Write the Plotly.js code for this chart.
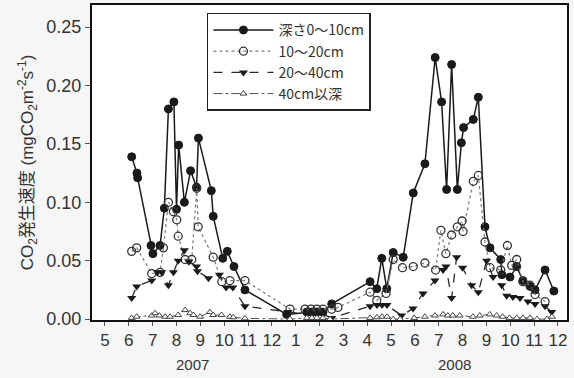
<!DOCTYPE html>
<html>
<head>
<meta charset="utf-8">
<script src="https://cdn.plot.ly/plotly-3.0.1.min.js"></script>
<style>html,body{margin:0;padding:0;background:#f6f6f6;}#chart{width:574px;height:378px;}</style>
</head>
<body>
<div id="chart"></div>
<script>
// x = month index counted from Jan 2007 (2008 month k -> 12 + k)
const monthTicks = [5,6,7,8,9,10,11,12,13,14,15,16,17,18,19,20,21,22,23,24];
const monthLabels = ["5","6","7","8","9","10","11","12","1","2","3","4","5","6","7","8","9","10","11","12"];
const yearLabels = ["2007","2008"];
const yearPos = [8.69, 19.68];
const seriesNames = ["深さ0〜10cm","10〜20cm","20〜40cm","40cm以深"];

const x1 = [6.12,6.34,6.37,6.93,7.01,7.31,7.49,7.66,7.89,8.00,8.09,8.33,8.59,8.84,8.92,9.46,9.54,9.94,10.13,10.41,10.87,12.62,
            13.47,13.68,13.89,14.14,14.51,16.12,16.40,16.61,16.82,17.09,17.51,17.93,18.42,18.85,19.12,19.33,19.54,19.78,19.95,20.04,
            20.45,20.66,20.94,21.15,21.60,21.65,21.99,22.27,22.53,22.83,23.04,23.46,23.83];
const y1 = [0.139,0.125,0.121,0.063,0.056,0.063,0.095,0.180,0.186,0.094,0.149,0.100,0.127,0.113,0.155,0.110,0.088,0.052,0.058,0.045,0.025,0.004,
            0.006,0.006,0.006,0.006,0.013,0.032,0.026,0.052,0.026,0.057,0.053,0.108,0.133,0.224,0.186,0.111,0.218,0.111,0.151,0.164,
            0.171,0.190,0.079,0.061,0.051,0.038,0.036,0.045,0.033,0.028,0.025,0.042,0.024];

const x2 = [6.12,6.33,6.96,7.31,7.45,7.66,7.87,8.01,8.07,8.36,8.64,8.85,8.91,9.54,9.90,10.24,10.87,12.76,
            13.39,13.64,13.89,14.14,14.51,14.77,16.12,16.40,16.79,17.09,17.48,17.93,18.42,18.87,19.09,19.30,19.54,19.78,19.98,20.02,
            20.45,20.66,20.94,21.15,21.60,21.88,22.06,22.27,22.53,22.83,23.04,23.46];
const y2 = [0.058,0.061,0.039,0.040,0.061,0.100,0.092,0.085,0.071,0.051,0.051,0.112,0.079,0.053,0.032,0.033,0.033,0.0085,
            0.0085,0.0085,0.0085,0.0085,0.0085,0.010,0.023,0.016,0.022,0.051,0.044,0.045,0.048,0.042,0.076,0.056,0.072,0.079,0.084,0.075,
            0.118,0.123,0.066,0.044,0.042,0.063,0.046,0.051,0.032,0.029,0.021,0.015];

const x3 = [6.12,6.33,6.96,7.20,7.38,7.66,7.87,8.07,8.33,8.52,8.84,8.88,9.34,9.80,10.08,10.36,10.87,12.68,
            13.47,13.68,13.89,14.14,14.51,16.12,16.41,16.62,16.83,17.44,17.92,18.34,18.84,19.18,19.30,19.54,19.75,20.00,
            20.38,20.66,21.01,21.28,21.64,21.85,22.11,22.41,22.74,23.04,23.46,23.74];
const y3 = [0.018,0.028,0.033,0.040,0.040,0.029,0.040,0.050,0.059,0.049,0.045,0.041,0.035,0.038,0.027,0.027,0.011,0.006,
            0.004,0.004,0.004,0.004,0.001,0.011,0.012,0.012,0.012,0.003,0.009,0.022,0.033,0.042,0.045,0.018,0.053,0.044,
            0.029,0.023,0.050,0.036,0.029,0.020,0.019,0.018,0.015,0.013,0.011,0.006];

const x4 = [6.12,6.33,6.96,7.10,7.28,7.52,7.73,8.07,8.36,8.57,8.71,8.99,9.40,9.54,9.89,10.24,10.38,10.87,
            12.76,13.47,13.68,13.89,14.14,14.44,16.12,16.41,16.62,16.83,17.09,17.38,17.97,18.42,18.84,19.18,19.38,19.59,19.88,
            20.43,20.72,21.14,21.43,21.68,21.97,22.27,22.53,22.83,23.12,23.54,23.75];
const y4 = [0.001,0.002,0.003,0.005,0.003,0.002,0.002,0.0035,0.0077,0.005,0.0035,0.002,0.006,0.0035,0.0035,0.002,0.0015,0.0006,
            0.000,0.001,0.001,0.001,0.001,0.000,0.001,0.0015,0.002,0.002,0.000,0.000,0.001,0.002,0.003,0.004,0.003,0.003,0.003,
            0.002,0.003,0.004,0.003,0.002,0.001,0.001,0.001,0.001,0.000,0.000,0.002];

const traces = [
  {x:x1, y:y1, name:seriesNames[0], mode:'lines+markers', type:'scatter',
   line:{color:'#1a1a1a', width:1.5, dash:'solid'},
   marker:{symbol:'circle', size:8, color:'#1a1a1a', line:{color:'#1a1a1a', width:1}}},
  {x:x2, y:y2, name:seriesNames[1], mode:'lines+markers', type:'scatter',
   line:{color:'#7a7a7a', width:1.2, dash:'dot'},
   marker:{symbol:'circle-open', size:8, color:'#333', line:{color:'#333', width:1.3}}},
  {x:x3, y:y3, name:seriesNames[2], mode:'lines+markers', type:'scatter',
   line:{color:'#2a2a2a', width:1.3, dash:'dash'},
   marker:{symbol:'triangle-down', size:8, color:'#1a1a1a'}},
  {x:x4, y:y4, name:seriesNames[3], mode:'lines+markers', type:'scatter',
   line:{color:'#555', width:1, dash:'dashdot'},
   marker:{symbol:'triangle-up', size:6, color:'#ffffff', line:{color:'#444', width:1}}}
];

const annotations = yearLabels.map((t,i)=>({
  x: yearPos[i], y: -0.14, xref:'x', yref:'paper', text:t, showarrow:false,
  font:{family:'Liberation Sans, Arial, sans-serif', size:15, color:'#333'}, yanchor:'middle'
}));

const layout = {
  width:574, height:378,
  margin:{l:92, r:7, t:5, b:58},
  paper_bgcolor:'#f6f6f6', plot_bgcolor:'#ffffff',
  showlegend:true,
  font:{family:'Liberation Sans, Arial, sans-serif', color:'#333'},
  xaxis:{range:[4.455,24.38], tickmode:'array', tickvals:monthTicks, ticktext:monthLabels,
         showgrid:false, zeroline:false, showline:true, linecolor:'#111', linewidth:2, mirror:true,
         ticks:'outside', ticklen:4, tickcolor:'#555', tickfont:{size:17, color:'#333'}},
  yaxis:{range:[-0.0008,0.269], tickvals:[0,0.05,0.1,0.15,0.2,0.25], tickformat:'.2f',
         showgrid:false, zeroline:false, showline:true, linecolor:'#111', linewidth:2, mirror:true,
         ticks:'outside', ticklen:5, tickcolor:'#555', tickfont:{size:18, color:'#333'},
         title:{text:'CO<sub>2</sub>発生速度 (mgCO<sub>2</sub>m<sup>-2</sup>s<sup>-1</sup>)', standoff:8,
                font:{family:'Liberation Sans, Noto Sans CJK JP, sans-serif', size:17, color:'#333'}}},
  legend:{x:0.242, y:0.975, xanchor:'left', yanchor:'top', bgcolor:'#ffffff',
          bordercolor:'#222', borderwidth:1.5, itemwidth:60, tracegroupgap:0,
          font:{family:'Noto Sans CJK JP, sans-serif', size:14, color:'#333'}},
  annotations:annotations
};

Plotly.newPlot('chart', traces, layout, {displayModeBar:false, staticPlot:true});
</script>
</body>
</html>
